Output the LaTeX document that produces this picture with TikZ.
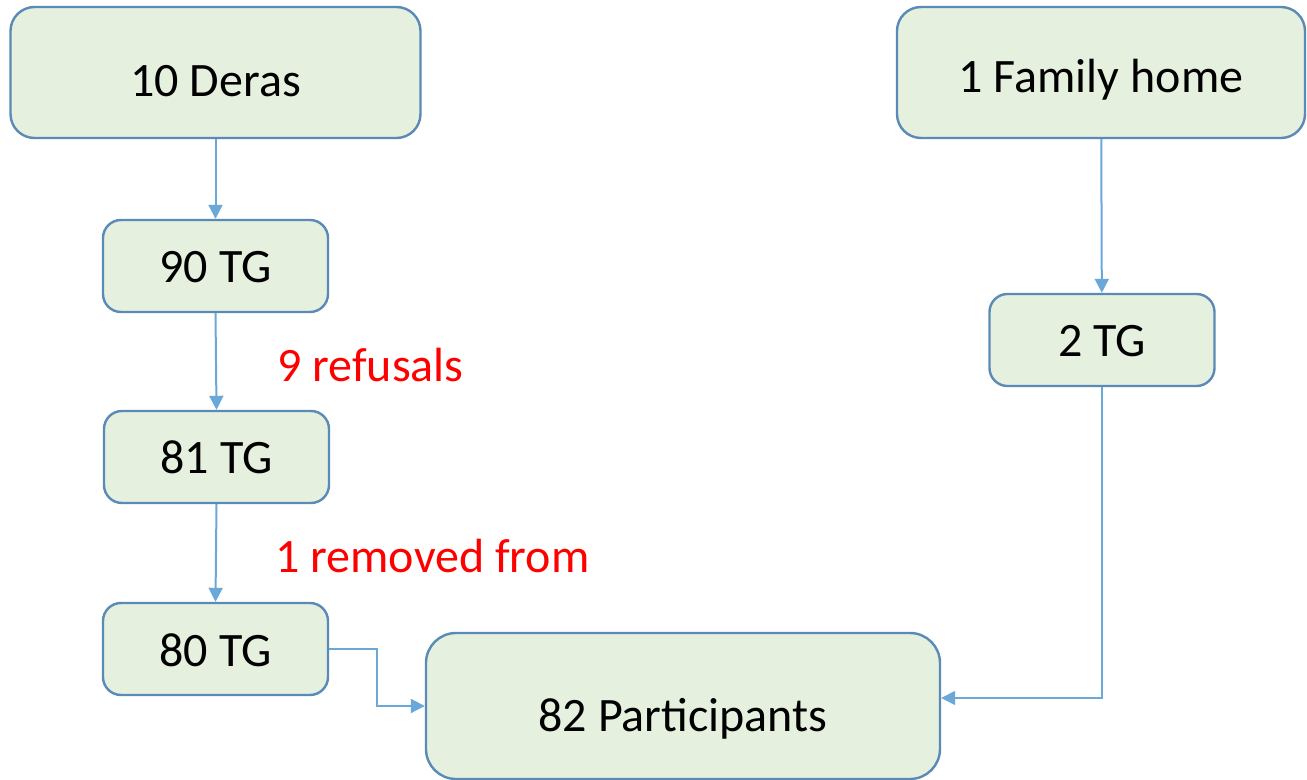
\documentclass[tikz,border=0pt]{standalone}
\usepackage{fontspec}
\setmainfont{Carlito}
\usetikzlibrary{positioning, arrows.meta}
\definecolor{boxfill}{HTML}{E6F0DF}
\definecolor{boxline}{HTML}{5A8AB6}
\definecolor{arrowline}{HTML}{6AA8DA}
\tikzstyle{Arrow} = [
    arrowline,
    line width = 1pt,
    -{Triangle[length=7pt, width=7pt]}
]

\begin{document}
\begin{tikzpicture}[
x = 0.5pt, y = -0.5pt,
box/.style = {
    rectangle,
    draw = boxline,
    fill = boxfill,
    line width = 1.2pt,
    rounded corners = 12pt,
    inner sep = 0pt,
    text depth = 0pt,
    font = \fontsize{24}{28}\selectfont
    },
big/.style = {
    box,
    minimum width = 205pt,
    minimum height = 65.5pt
    },
small/.style = {
    box,
    rounded corners = 9pt,
    minimum width = 112.5pt,
    minimum height = 46pt,
    text height = 17pt
    },
note/.style = {
    text = red,
    anchor = base west,
    inner sep = 0pt,
    font = \fontsize{24}{28}\selectfont
    }
]

\useasboundingbox (0,0) rectangle (1307,780);

\node [big, text height = 24.5pt] (deras) at (215.5,72.5) {10 Deras};
\node [small] (tg90) at (215.5,266) {90 TG};
\node [small] (tg81) at (216.5,457) {81 TG};
\node [small] (tg80) at (215.5,649) {80 TG};

\node [big, minimum width = 204pt, text height = 20pt] (family) at (1101,72.5) {1 Family home};
\node [small] (tg2) at (1102,340) {2 TG};

\node [box, rounded corners = 15pt, minimum width = 257pt, minimum height = 73pt,
       text height = 25pt] (part) at (683,706) {82 Participants};

\node [note] (refusals) at (277,382) {9 refusals};
\node [note] (removed) at (275,573) {1 removed from};

\draw[Arrow] (deras) -- (tg90);
\draw[Arrow] (tg90.south) -- (tg81.north);
\draw[Arrow] (tg81.south) -- (tg80.north);
\draw[Arrow] (tg80.east) -- ++(48,0) |- (part.west);

\draw[Arrow] (family) -- (tg2);
\draw[Arrow, line width = 0.8pt] (tg2.south) |- ([yshift=4pt]part.east);

\end{tikzpicture}
\end{document}
